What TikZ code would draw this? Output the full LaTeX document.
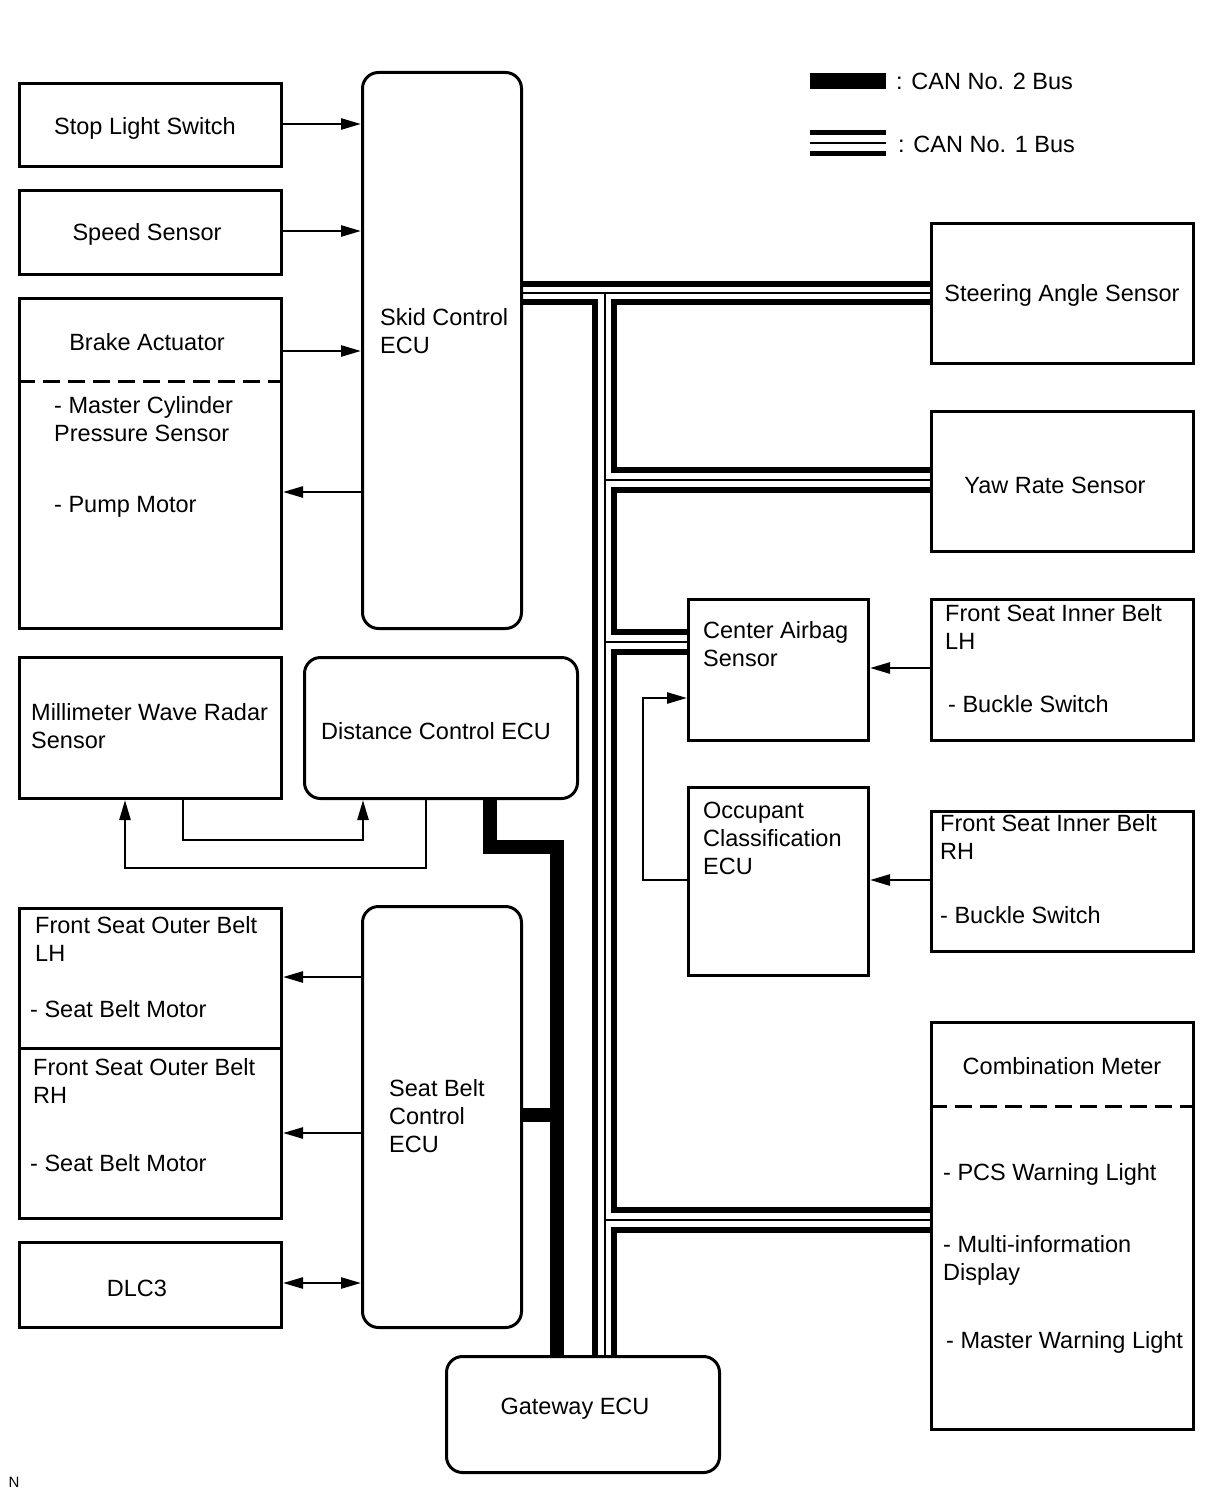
\documentclass[tikz,border=0pt]{standalone}
\usepackage{fontspec}
\setmainfont{Liberation Sans}
\usetikzlibrary{arrows.meta}
\begin{document}
\begin{tikzpicture}[x=1pt,y=-1pt,
  box/.style={draw, line width=3pt, inner sep=0pt, anchor=north west},
  rbox/.style={box, rounded corners=16pt},
  txt/.style={inner sep=0pt, align=left, anchor=west, font=\fontsize{23.5}{28}\selectfont},
  ctxt/.style={txt, anchor=center, align=center, yshift=-2pt},
  conn/.style={line width=2.5pt, -{Triangle[length=20pt,width=11pt]}},
  dconn/.style={line width=2.5pt, {Triangle[length=20pt,width=11pt]}-{Triangle[length=20pt,width=11pt]}},
  dline/.style={line width=3pt, dash pattern=on 17pt off 8pt},
  can2/.style={line width=14pt},
  wall/.style={line width=6pt},
  mid/.style={line width=2pt},
]
\useasboundingbox (0,0) rectangle (1210,1498);

% ---------- boxes ----------
\node[box, minimum width=262pt, minimum height=83pt] (stop) at (18,82) {};
\node[box, minimum width=262pt, minimum height=84pt] (speed) at (18,189) {};
\node[box, minimum width=262pt, minimum height=330pt] (brake) at (18,297) {};
\node[rbox, minimum width=159pt, minimum height=556pt] (skid) at (361,71) {};
\node[box, minimum width=262pt, minimum height=141pt] (radar) at (18,656) {};
\node[rbox, minimum width=273pt, minimum height=141pt] (dist) at (303,656) {};
\node[box, minimum width=262pt, minimum height=140pt] (lh) at (18,907) {};
\node[box, minimum width=262pt, minimum height=170pt] (rh) at (18,1047) {};
\node[box, minimum width=262pt, minimum height=85pt] (dlc) at (18,1241) {};
\node[rbox, minimum width=159pt, minimum height=421pt] (sbc) at (361,905) {};
\node[rbox, minimum width=273pt, minimum height=116pt] (gw) at (445,1355) {};
\node[box, minimum width=262pt, minimum height=140pt] (steer) at (930,222) {};
\node[box, minimum width=262pt, minimum height=140pt] (yaw) at (930,410) {};
\node[box, minimum width=180pt, minimum height=141pt] (airbag) at (687,598) {};
\node[box, minimum width=180pt, minimum height=188pt] (occ) at (687,786) {};
\node[box, minimum width=262pt, minimum height=141pt] (inl) at (930,598) {};
\node[box, minimum width=262pt, minimum height=140pt] (inr) at (930,810) {};
\node[box, minimum width=262pt, minimum height=407pt] (comb) at (930,1021) {};

% dashed separators
\draw[dline] (brake.west |- 0,381) -- (brake.east |- 0,381);
\draw[dline] (comb.west |- 0,1106) -- (comb.east |- 0,1106);

% ---------- texts ----------
\node[ctxt] (tstop) at (145,126) {Stop Light Switch};
\node[ctxt] (tspeed) at (147,232) {Speed Sensor};
\node[ctxt] (tbrake) at (147,340) {Brake Actuator};
\node[txt] (tmcps) at (54,419) {- Master Cylinder\\Pressure Sensor};
\node[txt] (tpump) at (54,507) {- Pump Motor};
\node[txt] (tskid) at (380,331) {Skid Control\\ECU};
\node[txt] (tradar) at (31,726) {Millimeter Wave Radar\\Sensor};
\node[ctxt] (tdist) at (436,729) {Distance Control ECU};
\node[txt] (tlh) at (35,939) {Front Seat Outer Belt\\LH};
\node[txt] (tlhm) at (30,1009) {- Seat Belt Motor};
\node[txt] (trh) at (33,1081) {Front Seat Outer Belt\\RH};
\node[txt] (trhm) at (30,1163) {- Seat Belt Motor};
\node[ctxt] (tdlc) at (137,1286) {DLC3};
\node[txt] (tsbc) at (389,1116) {Seat Belt\\Control\\ECU};
\node[ctxt] (tgw) at (575,1407) {Gateway ECU};
\node[ctxt] (tsteer) at (1062,293) {Steering Angle Sensor};
\node[ctxt] (tyaw) at (1055,483) {Yaw Rate Sensor};
\node[txt] (tairbag) at (703,644) {Center Airbag\\Sensor};
\node[txt] (tocc) at (703,838) {Occupant\\Classification\\ECU};
\node[txt] (tinl) at (945,627) {Front Seat Inner Belt\\LH};
\node[txt] (tinlb) at (948,704) {- Buckle Switch};
\node[txt] (tinr) at (940,837) {Front Seat Inner Belt\\RH};
\node[txt] (tinrb) at (940,915) {- Buckle Switch};
\node[ctxt] (tcomb) at (1062,1064) {Combination Meter};
\node[txt] (tpcs) at (943,1174) {- PCS Warning Light};
\node[txt] (tmid) at (943,1260) {- Multi-information\\Display};
\node[txt] (tmwl) at (946,1342) {- Master Warning Light};
\node[inner sep=0pt, font=\fontsize{15}{16}\selectfont] (tn) at (14,1482) {N};

% ---------- legend ----------
\node[fill, inner sep=0pt, minimum width=76pt, minimum height=16pt, anchor=north west] (leg2) at (810,73) {};
\node[txt] (tleg2) at (896,81) {: CAN No. 2 Bus};
\coordinate (leg1a) at (810,143);
\coordinate (leg1b) at (886,143);
\draw[line width=5.5pt] ([yshift=-10.5pt]leg1a) -- ([yshift=-10.5pt]leg1b);
\draw[line width=2pt] (leg1a) -- (leg1b);
\draw[line width=5.5pt] ([yshift=10.5pt]leg1a) -- ([yshift=10.5pt]leg1b);
\node[txt] (tleg1) at (898,144) {: CAN No. 1 Bus};

% ---------- signal connectors ----------
\draw[conn] (stop.east |- 0,124) -- (skid.west |- 0,124);
\draw[conn] (speed.east |- 0,231) -- (skid.west |- 0,231);
\draw[conn] (brake.east |- 0,351) -- (skid.west |- 0,351);
\draw[conn] (skid.west |- 0,492) -- (brake.east |- 0,492);
\draw[conn] (radar.south -| 183,0) -- (183,840) -- (363,840) -- (dist.south -| 363,0);
\draw[conn] (dist.south -| 426,0) -- (426,868) -- (125,868) -- (radar.south -| 125,0);
\draw[conn] (sbc.west |- 0,977) -- (lh.east |- 0,977);
\draw[conn] (sbc.west |- 0,1133) -- (rh.east |- 0,1133);
\draw[dconn] (dlc.east |- 0,1283) -- (sbc.west |- 0,1283);
\draw[conn] (inl.west |- 0,668) -- (airbag.east |- 0,668);
\draw[conn] (inr.west |- 0,880) -- (occ.east |- 0,880);
\draw[conn] (occ.west |- 0,880) -- (643,880) -- (643,698) -- (airbag.west |- 0,698);

% ---------- CAN No. 2 bus ----------
\draw[can2] (dist.south -| 490,0) -- (490,847) -- (557,847) -- (gw.north -| 557,0);
\draw[can2] (sbc.east |- 0,1115) -- (557,1115);

% ---------- CAN No. 1 bus ----------
\draw[wall] (skid.east |- 0,284) -- (steer.west |- 0,284);
\draw[mid] (skid.east |- 0,293) -- (steer.west |- 0,293);
\draw[wall] (skid.east |- 0,302) -- (595,302) -- (gw.north -| 595,0);
\draw[mid] (604.5,293) -- (gw.north -| 604.5,0);
\draw[wall] (steer.west |- 0,302) -- (614,302) -- (614,470) -- (yaw.west |- 0,470);
\draw[mid] (604.5,480) -- (yaw.west |- 0,480);
\draw[wall] (yaw.west |- 0,490) -- (614,490) -- (614,632) -- (airbag.west |- 0,632);
\draw[mid] (604.5,642) -- (airbag.west |- 0,642);
\draw[wall] (airbag.west |- 0,652) -- (614,652) -- (614,1210) -- (comb.west |- 0,1210);
\draw[mid] (604.5,1220) -- (comb.west |- 0,1220);
\draw[wall] (comb.west |- 0,1230) -- (614,1230) -- (gw.north -| 614,0);
\end{tikzpicture}
\end{document}
